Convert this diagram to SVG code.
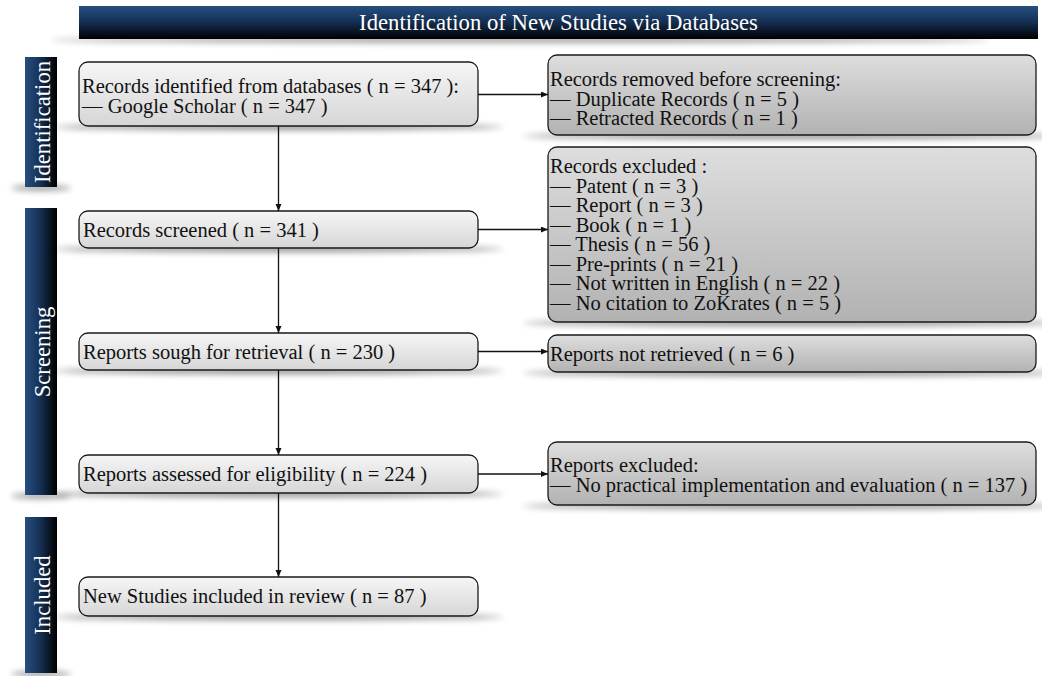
<svg xmlns="http://www.w3.org/2000/svg" width="1042" height="676" viewBox="0 0 1042 676">
  <defs>
    <linearGradient id="bandV" x1="0" y1="0" x2="0" y2="1">
      <stop offset="0" stop-color="#264f80"/>
      <stop offset="0.45" stop-color="#163257"/>
      <stop offset="1" stop-color="#000000"/>
    </linearGradient>
    <linearGradient id="bandH" x1="0" y1="0" x2="1" y2="0">
      <stop offset="0" stop-color="#264f80"/>
      <stop offset="0.45" stop-color="#163257"/>
      <stop offset="1" stop-color="#000000"/>
    </linearGradient>
    <linearGradient id="lightBox" x1="0" y1="0" x2="0" y2="1">
      <stop offset="0" stop-color="#f6f6f6"/>
      <stop offset="1" stop-color="#d6d6d6"/>
    </linearGradient>
    <linearGradient id="darkBox" x1="0" y1="0" x2="0" y2="1">
      <stop offset="0" stop-color="#dedede"/>
      <stop offset="1" stop-color="#b2b2b2"/>
    </linearGradient>
    <filter id="soft" x="-20%" y="-200%" width="140%" height="500%">
      <feGaussianBlur stdDeviation="3"/>
    </filter>
    <marker id="arrow" markerUnits="userSpaceOnUse" markerWidth="8" markerHeight="7" refX="7" refY="3" orient="auto">
      <path d="M0,0 L7,3 L0,6 z" fill="#111"/>
    </marker>
  </defs>
  <style>
    .shadow { fill: #000; opacity: 0.45; filter: url(#soft); }
    .light { fill: url(#lightBox); stroke: #1a1a1a; stroke-width: 1.3; }
    .dark { fill: url(#darkBox); stroke: #1a1a1a; stroke-width: 1.3; }
    .txt { font-family: "Liberation Serif", "Times New Roman", serif; font-size: 20.5px; fill: #111; }
    .band-txt { font-family: "Liberation Serif", "Times New Roman", serif; font-size: 22.7px; fill: #ffffff; }
    .link { stroke: #111; stroke-width: 1.3; fill: none; marker-end: url(#arrow); }
  </style>

  <rect width="1042" height="676" fill="#ffffff"/>

  <!-- title band -->
  <g id="title">
    <ellipse class="shadow" cx="520" cy="40" rx="470" ry="2.5"/>
    <rect x="79" y="6" width="959" height="33" fill="url(#bandV)"/>
    <text class="band-txt" x="558.5" y="30" text-anchor="middle">Identification of New Studies via Databases</text>
  </g>

  <!-- phase bands -->
  <g id="phase-identification">
    <ellipse class="shadow" cx="41" cy="188" rx="30" ry="2.5"/>
    <rect x="25" y="57" width="32" height="130" fill="url(#bandH)"/>
    <text class="band-txt" transform="translate(50,122) rotate(-90)" text-anchor="middle">Identification</text>
  </g>
  <g id="phase-screening">
    <ellipse class="shadow" cx="41" cy="496" rx="30" ry="2.5"/>
    <rect x="25" y="208" width="32" height="287" fill="url(#bandH)"/>
    <text class="band-txt" transform="translate(50,352) rotate(-90)" text-anchor="middle">Screening</text>
  </g>
  <g id="phase-included">
    <ellipse class="shadow" cx="41" cy="674" rx="30" ry="2.5"/>
    <rect x="25" y="517" width="32" height="156" fill="url(#bandH)"/>
    <text class="band-txt" transform="translate(50,595) rotate(-90)" text-anchor="middle">Included</text>
  </g>

  <!-- main flow boxes -->
  <g id="identified">
    <ellipse class="shadow" cx="278.5" cy="127" rx="225" ry="3"/>
    <rect class="light" x="79" y="62" width="399" height="64" rx="9"/>
    <text class="txt" x="82" y="93">Records identified from databases ( n = 347 ):<tspan x="82" dy="20">— Google Scholar ( n = 347 )</tspan></text>
  </g>
  <g id="screened">
    <ellipse class="shadow" cx="278.5" cy="249" rx="225" ry="3"/>
    <rect class="light" x="79" y="211" width="399" height="37" rx="9"/>
    <text class="txt" x="83" y="237">Records screened ( n = 341 )</text>
  </g>
  <g id="sought">
    <ellipse class="shadow" cx="278.5" cy="371" rx="225" ry="3"/>
    <rect class="light" x="79" y="333" width="399" height="37" rx="9"/>
    <text class="txt" x="83" y="359">Reports sough for retrieval ( n = 230 )</text>
  </g>
  <g id="assessed">
    <ellipse class="shadow" cx="278.5" cy="494" rx="225" ry="3"/>
    <rect class="light" x="79" y="455" width="399" height="38" rx="9"/>
    <text class="txt" x="83" y="481">Reports assessed for eligibility ( n = 224 )</text>
  </g>
  <g id="included">
    <ellipse class="shadow" cx="278.5" cy="617" rx="225" ry="3"/>
    <rect class="light" x="79" y="577" width="399" height="39" rx="9"/>
    <text class="txt" x="83" y="603">New Studies included in review ( n = 87 )</text>
  </g>

  <!-- side boxes -->
  <g id="removed">
    <ellipse class="shadow" cx="792" cy="136" rx="270" ry="3"/>
    <rect class="dark" x="548" y="55" width="488" height="80" rx="9"/>
    <text class="txt" x="550" y="86">Records removed before screening:<tspan x="550" dy="19.5">— Duplicate Records ( n = 5 )</tspan><tspan x="550" dy="19.5">— Retracted Records ( n = 1 )</tspan></text>
  </g>
  <g id="excluded">
    <ellipse class="shadow" cx="792" cy="323" rx="270" ry="3"/>
    <rect class="dark" x="548" y="147" width="488" height="175" rx="9"/>
    <text class="txt" x="550" y="173">Records excluded :<tspan x="550" dy="19.5">— Patent ( n = 3 )</tspan><tspan x="550" dy="19.5">— Report ( n = 3 )</tspan><tspan x="550" dy="19.5">— Book ( n = 1 )</tspan><tspan x="550" dy="19.5">— Thesis ( n = 56 )</tspan><tspan x="550" dy="19.5">— Pre-prints ( n = 21 )</tspan><tspan x="550" dy="19.5">— Not written in English ( n = 22 )</tspan><tspan x="550" dy="19.5">— No citation to ZoKrates ( n = 5 )</tspan></text>
  </g>
  <g id="not-retrieved">
    <ellipse class="shadow" cx="792" cy="373" rx="270" ry="3"/>
    <rect class="dark" x="548" y="335" width="488" height="37" rx="9"/>
    <text class="txt" x="550" y="361">Reports not retrieved ( n = 6 )</text>
  </g>
  <g id="reports-excluded">
    <ellipse class="shadow" cx="792" cy="506" rx="270" ry="3"/>
    <rect class="dark" x="548" y="442" width="488" height="63" rx="9"/>
    <text class="txt" x="550" y="472">Reports excluded:<tspan x="550" dy="20">— No practical implementation and evaluation ( n = 137 )</tspan></text>
  </g>

  <!-- connectors -->
  <g id="connectors">
    <line class="link" x1="278.5" y1="126" x2="278.5" y2="211"/>
    <line class="link" x1="278.5" y1="248" x2="278.5" y2="333"/>
    <line class="link" x1="278.5" y1="370" x2="278.5" y2="455"/>
    <line class="link" x1="278.5" y1="493" x2="278.5" y2="577"/>
    <line class="link" x1="478" y1="94.5" x2="548" y2="94.5"/>
    <line class="link" x1="478" y1="229.5" x2="548" y2="229.5"/>
    <line class="link" x1="478" y1="351.5" x2="548" y2="351.5"/>
    <line class="link" x1="478" y1="474" x2="548" y2="474"/>
  </g>
</svg>
